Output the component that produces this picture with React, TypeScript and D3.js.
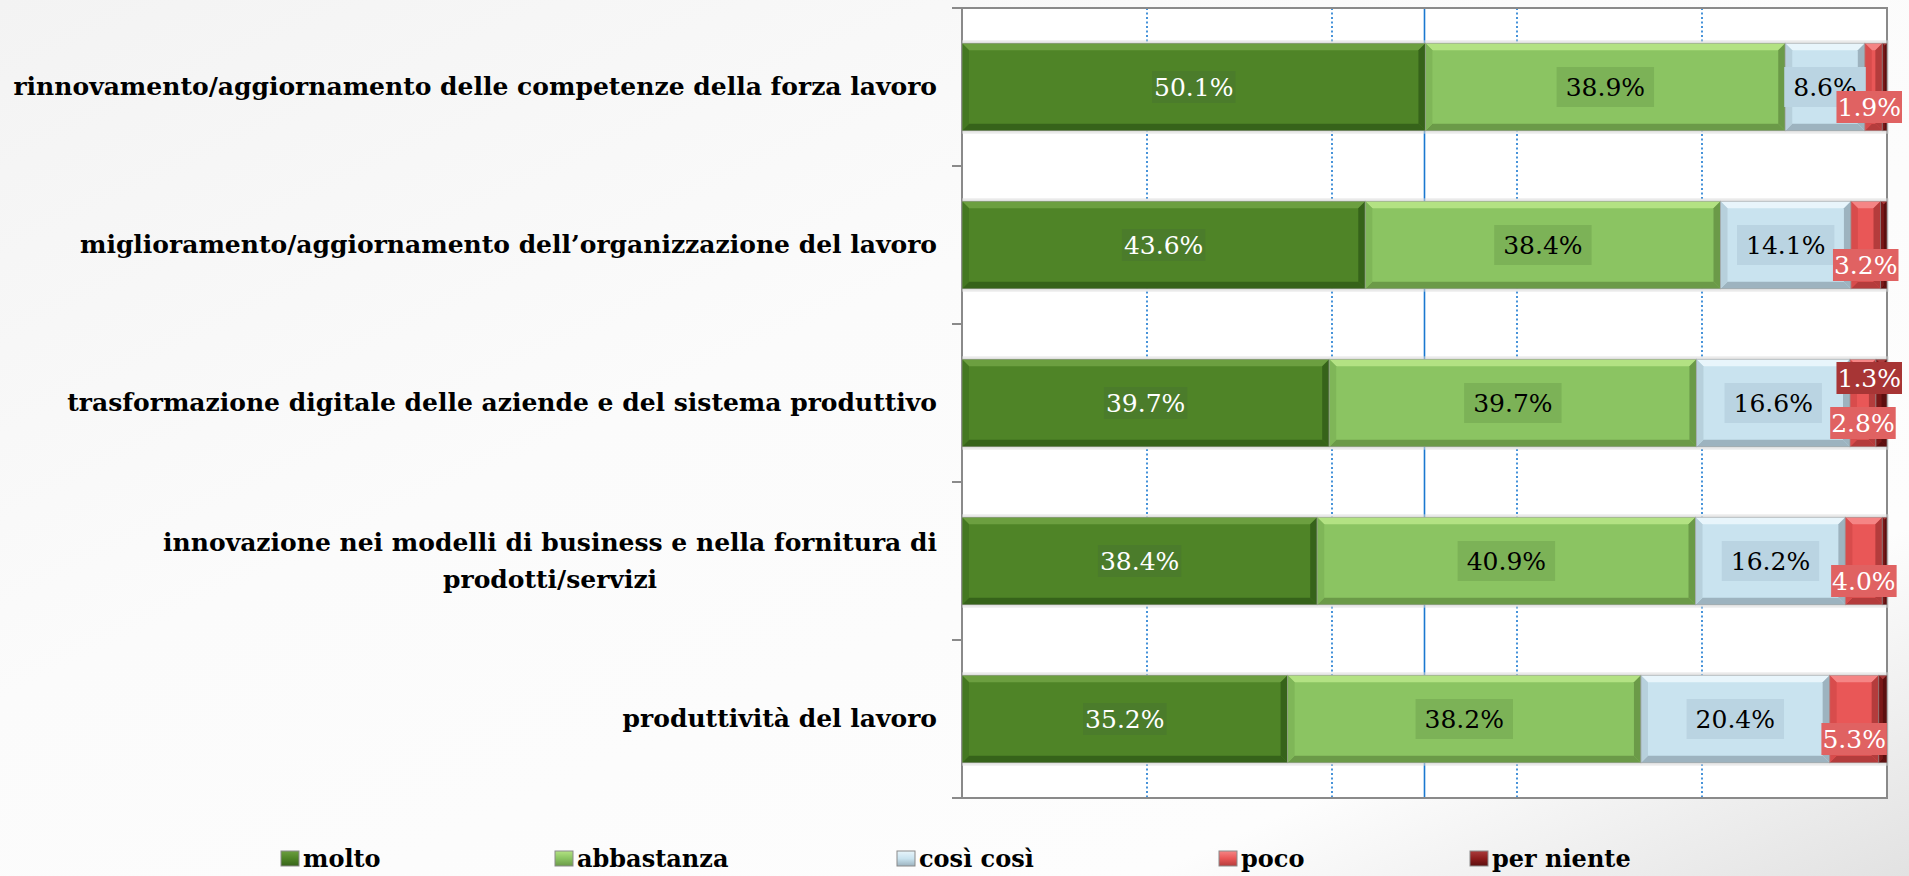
import React, { useEffect, useRef } from "react";
import * as d3 from "d3";

// ---------- data ----------
const categories = [
  "rinnovamento/aggiornamento delle competenze della forza lavoro",
  "miglioramento/aggiornamento dell\u2019organizzazione del lavoro",
  "trasformazione digitale delle aziende e del sistema produttivo",
  "innovazione nei modelli di business e nella fornitura di\nprodotti/servizi",
  "produttività del lavoro",
];
const seriesNames = ["molto", "abbastanza", "così così", "poco", "per niente"];
const molto = [50.1, 43.6, 39.7, 38.4, 35.2];
const abbastanza = [38.9, 38.4, 39.7, 40.9, 38.2];
const cosiCosi = [8.6, 14.1, 16.6, 16.2, 20.4];
const poco = [1.9, 3.2, 2.8, 4.0, 5.3];
const perNiente = [0.5, 0.7, 1.3, 0.5, 0.9];
const perNienteLabelShown = [false, false, true, false, false];
const xTicks = [20, 40, 60, 80];
const xMajorTick = 50;

// ---------- styles ----------
const W = 1909;
const H = 876;
const M = { left: 962, right: 1887, top: 8, bottom: 798 };
const serif = "'DejaVu Serif', serif";

type Style = {
  base: string; light: string; dark: string; side: string;
  box: string; text: string; boxH: number; padX: number; dy: number;
};
const styles: Style[] = [
  { base: "#4f8427", light: "#6c9f40", dark: "#36631a", side: "#447822", box: "#4b7c2b", text: "#ffffff", boxH: 32, padX: 2, dy: 0 },
  { base: "#8bc462", light: "#b3e283", dark: "#6b9a48", side: "#7fb658", box: "#7cb257", text: "#000000", boxH: 40, padX: 9, dy: 0 },
  { base: "#c9e3ef", light: "#e8f5fb", dark: "#9db3bf", side: "#b7d0dc", box: "#bad4e2", text: "#000000", boxH: 40, padX: 9, dy: 0 },
  { base: "#e95757", light: "#f58585", dark: "#b43c3c", side: "#d84c4c", box: "#e06262", text: "#ffffff", boxH: 32, padX: 1, dy: 20 },
  { base: "#8d1d1d", light: "#aa3c3c", dark: "#5c0f0f", side: "#7a1818", box: "#a73535", text: "#ffffff", boxH: 32, padX: 1, dy: -25 },
];

export default function App() {
  const ref = useRef<SVGSVGElement | null>(null);

  useEffect(() => {
    const svg = d3.select(ref.current!);
    svg.selectAll("*").remove();

    const defs = svg.append("defs");
    const bg = defs.append("linearGradient").attr("id", "bg")
      .attr("x1", 0).attr("y1", 0).attr("x2", 1).attr("y2", 1);
    bg.append("stop").attr("offset", 0).attr("stop-color", "#f3f3f3");
    bg.append("stop").attr("offset", 0.4).attr("stop-color", "#fbfbfb");
    bg.append("stop").attr("offset", 0.8).attr("stop-color", "#fdfdfd");
    bg.append("stop").attr("offset", 1).attr("stop-color", "#e2e2e2");

    svg.append("rect").attr("width", W).attr("height", H).attr("fill", "url(#bg)");

    const x = d3.scaleLinear().domain([0, 100]).range([M.left, M.right]);
    const y = d3.scaleBand<number>()
      .domain(d3.range(categories.length))
      .range([M.top, M.bottom])
      .paddingInner(0.447)
      .paddingOuter(0.2235);

    // plot area
    svg.append("rect")
      .attr("x", M.left).attr("y", M.top)
      .attr("width", M.right - M.left).attr("height", M.bottom - M.top)
      .attr("fill", "#ffffff");

    // gridlines
    const g = svg.append("g");
    g.selectAll("line.grid").data(xTicks).join("line")
      .attr("x1", (d) => x(d)).attr("x2", (d) => x(d))
      .attr("y1", M.top).attr("y2", M.bottom)
      .attr("stroke", "#1a78d0").attr("stroke-width", 1.6)
      .attr("stroke-dasharray", "2,2.5");
    g.append("line")
      .attr("x1", x(xMajorTick)).attr("x2", x(xMajorTick))
      .attr("y1", M.top).attr("y2", M.bottom)
      .attr("stroke", "#1a78d0").attr("stroke-width", 1.6);

    // border
    svg.append("rect")
      .attr("x", M.left).attr("y", M.top)
      .attr("width", M.right - M.left).attr("height", M.bottom - M.top)
      .attr("fill", "none").attr("stroke", "#8a8a8a").attr("stroke-width", 2);

    // category tick marks
    const step = y.step();
    const boundaries = d3.range(categories.length + 1).map((i) => M.top + i * step);
    svg.selectAll("line.tick").data(boundaries).join("line")
      .attr("x1", M.left - 10).attr("x2", M.left)
      .attr("y1", (d) => d).attr("y2", (d) => d)
      .attr("stroke", "#8a8a8a").attr("stroke-width", 2);

    const seriesValues = [molto, abbastanza, cosiCosi, poco, perNiente];
    const rows = categories.map((_, i) => {
      const obj: any = { i };
      seriesNames.forEach((s, k) => (obj[s] = seriesValues[k][i]));
      return obj;
    });
    const stacked = d3.stack<any>().keys(seriesNames)(rows);

    const bars = svg.append("g");
    // soft halo behind bars
    bars.selectAll("rect.halo").data(rows).join("rect")
      .attr("x", M.left)
      .attr("y", (d) => y(d.i)! - 3)
      .attr("width", (d) => Math.min(x(d3.sum(seriesValues, (v) => v[d.i])), M.right) - M.left + 2)
      .attr("height", y.bandwidth() + 6)
      .attr("fill", "#d9d9d9").attr("opacity", 0.55);

    const bev = 7;
    stacked.forEach((layer, k) => {
      const st = styles[k];
      layer.forEach((seg, i) => {
        const x0 = x(seg[0]);
        const x1 = Math.min(x(seg[1]), M.right);
        const y0 = y(i)!;
        const y1 = y0 + y.bandwidth();
        if (x1 - x0 <= 0) return;
        const b = Math.min(bev, (x1 - x0) / 2);
        const gg = bars.append("g");
        gg.append("rect").attr("x", x0).attr("y", y0)
          .attr("width", x1 - x0).attr("height", y1 - y0).attr("fill", st.base);
        const poly = (pts: number[][], fill: string) =>
          gg.append("polygon").attr("points", pts.map((p) => p.join(",")).join(" ")).attr("fill", fill);
        poly([[x0, y0], [x1, y0], [x1 - b, y0 + b], [x0 + b, y0 + b]], st.light);
        poly([[x0, y1], [x1, y1], [x1 - b, y1 - b], [x0 + b, y1 - b]], st.dark);
        poly([[x0, y0], [x0 + b, y0 + b], [x0 + b, y1 - b], [x0, y1]], st.side);
        poly([[x1, y0], [x1 - b, y0 + b], [x1 - b, y1 - b], [x1, y1]], st.dark);
        gg.append("rect").attr("x", x0).attr("y", y0)
          .attr("width", x1 - x0).attr("height", y1 - y0)
          .attr("fill", "none").attr("stroke", "#9a9a9a").attr("stroke-opacity", 0.6).attr("stroke-width", 1);
      });
    });

    // data labels
    const labels = svg.append("g");
    stacked.forEach((layer, k) => {
      const st = styles[k];
      layer.forEach((seg, i) => {
        const v = seriesValues[k][i];
        if (k === 4 && !perNienteLabelShown[i]) return;
        const cx0 = (x(seg[0]) + Math.min(x(seg[1]), M.right)) / 2;
        const cy = y(i)! + y.bandwidth() / 2 + st.dy;
        const lg = labels.append("g");
        const rect = lg.append("rect");
        const t = lg.append("text")
          .attr("text-anchor", "middle")
          .attr("font-family", serif).attr("font-size", 25)
          .attr("fill", st.text)
          .text(d3.format(".1f")(v) + "%");
        const tw = (t.node() as SVGTextElement).getComputedTextLength();
        const bw = tw + st.padX * 2;
        let cx = cx0;
        if (cx + bw / 2 > 1902) cx = 1902 - bw / 2;
        t.attr("x", cx).attr("y", cy + 9);
        rect.attr("x", cx - bw / 2).attr("y", cy - st.boxH / 2)
          .attr("width", bw).attr("height", st.boxH).attr("fill", st.box);
      });
    });

    // category labels
    const cat = svg.append("g");
    categories.forEach((c, i) => {
      const lines = c.split("\n");
      const cy = y(i)! + y.bandwidth() / 2;
      const right = 937;
      const texts = lines.map((ln) =>
        cat.append("text")
          .attr("font-family", serif).attr("font-weight", "bold").attr("font-size", 25)
          .attr("fill", "#000").text(ln));
      const widths = texts.map((t) => (t.node() as SVGTextElement).getComputedTextLength());
      const maxW = d3.max(widths)!;
      const n = lines.length;
      texts.forEach((t, j) => {
        const base = cy + 8 + (j - (n - 1) / 2) * 37;
        if (n === 1) {
          t.attr("x", right).attr("text-anchor", "end").attr("y", base);
        } else {
          t.attr("x", right - maxW / 2).attr("text-anchor", "middle").attr("y", base);
        }
      });
    });

    // legend
    const legendX = [281, 555, 897, 1219, 1470];
    const leg = svg.append("g");
    seriesNames.forEach((s, k) => {
      const st = styles[k];
      const lx = legendX[k];
      const grad = defs.append("linearGradient").attr("id", `lg${k}`)
        .attr("x1", 0).attr("y1", 0).attr("x2", 0).attr("y2", 1);
      grad.append("stop").attr("offset", 0).attr("stop-color", st.light);
      grad.append("stop").attr("offset", 0.5).attr("stop-color", st.base);
      grad.append("stop").attr("offset", 1).attr("stop-color", st.dark);
      leg.append("rect").attr("x", lx).attr("y", 851).attr("width", 18).attr("height", 15)
        .attr("fill", `url(#lg${k})`).attr("stroke", "#8a8a8a").attr("stroke-width", 1);
      leg.append("text").attr("x", lx + 22).attr("y", 867)
        .attr("font-family", serif).attr("font-weight", "bold").attr("font-size", 24)
        .attr("fill", "#000").text(s);
    });
  }, []);

  return (
    <svg
      ref={ref}
      width={W}
      height={H}
      style={{ position: "absolute", left: 0, top: 0, display: "block" }}
    />
  );
}
